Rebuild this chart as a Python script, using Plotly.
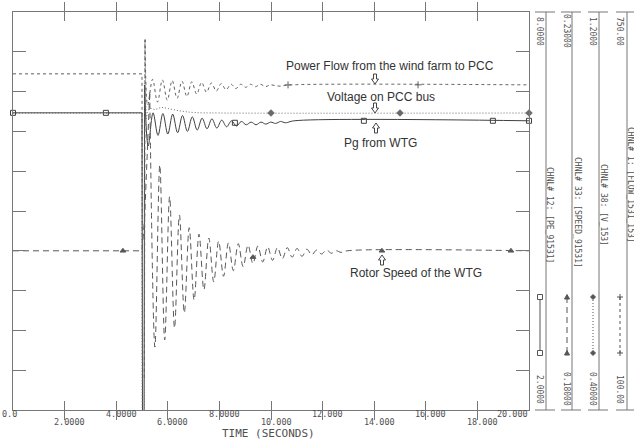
import plotly.graph_objects as go

# ---------------- data ----------------
# Pg from WTG  (CHNL 12, scale 2..8)
pg_t_fault = [0.0, 5.00, 5.02, 5.08, 5.10]
pg_v_fault = [6.48, 6.48, 1.50, 1.50, 6.90]
pg_t_osc = [5.10, 5.24, 5.43, 5.62, 5.81, 6.00, 6.19, 6.38, 6.57, 6.76,
            6.95, 7.14, 7.33, 7.52, 7.71, 7.90, 8.09, 8.28, 8.47, 8.66,
            8.85, 9.04, 9.23, 9.42, 9.61, 9.80, 9.99, 10.18, 10.37, 10.56,
            10.9, 20.0]
pg_v_osc = [6.90, 5.98, 6.48, 6.14, 6.47, 6.16, 6.46, 6.18, 6.44, 6.20,
            6.42, 6.22, 6.40, 6.24, 6.39, 6.25, 6.37, 6.27, 6.36, 6.28,
            6.35, 6.30, 6.34, 6.30, 6.34, 6.31, 6.34, 6.32, 6.35, 6.33,
            6.36, 6.36]
pg_mk_t = [0.0, 3.6, 8.6, 13.6, 18.6, 20.0]
pg_mk_v = [6.48, 6.48, 6.33, 6.36, 6.36, 6.36]

# Rotor speed (CHNL 33, scale 0.18..0.23)
spd_t_fault = [0.0, 5.00, 5.10, 5.30]
spd_v_fault = [0.2000, 0.2000, 0.2040, 0.2199]
spd_t_osc = [5.30, 5.50, 5.69, 5.88, 6.07, 6.26, 6.45, 6.64, 6.83, 7.02,
             7.21, 7.40, 7.59, 7.78, 7.97, 8.16, 8.35, 8.54, 8.73, 8.92,
             9.11, 9.30, 9.49, 9.68, 9.87, 10.06, 10.25, 10.44, 10.63, 10.82,
             11.01, 11.20, 11.39, 11.58, 11.77, 11.96, 12.15, 12.34, 12.53, 12.72,
             12.95, 20.0]
spd_v_osc = [0.2199, 0.1879, 0.2108, 0.1888, 0.2068, 0.1903, 0.2045, 0.1922, 0.2029, 0.1938,
             0.2021, 0.1951, 0.2016, 0.1961, 0.2012, 0.1968, 0.2010, 0.1975, 0.2009, 0.1980,
             0.2007, 0.1984, 0.2006, 0.1986, 0.2005, 0.1988, 0.2004, 0.1990, 0.2004, 0.1992,
             0.2003, 0.1993, 0.2002, 0.1995, 0.2001, 0.1996, 0.2001, 0.1997, 0.2000, 0.1998,
             0.2000, 0.2000]
spd_mk_t = [4.26, 9.3, 14.3, 19.3]
spd_mk_v = [0.2000, 0.1992, 0.2000, 0.2000]

# Voltage on PCC bus (CHNL 38, scale 0.4..1.2)
v_t_fault = [0.0, 5.00, 5.01, 5.09, 5.11, 5.16]
v_v_fault = [0.997, 0.997, 0.25, 0.25, 1.144, 0.985]
v_t_osc = [5.16, 5.30, 5.50, 5.75, 6.00, 6.50, 7.00, 8.00, 20.0]
v_v_osc = [0.985, 1.006, 1.004, 1.008, 1.006, 1.001, 0.998, 0.997, 0.997]
v_mk_t = [10.0, 15.0, 20.0]
v_mk_v = [0.997, 0.997, 0.997]

# Power flow wind farm -> PCC (CHNL 1, scale 100..750)
pf_t_fault = [0.0, 5.00, 5.02, 5.09, 5.12]
pf_v_fault = [649, 649, 150, 150, 705]
pf_t_osc = [5.12, 5.22, 5.41, 5.60, 5.79, 5.98, 6.17, 6.36, 6.55, 6.74,
            6.93, 7.12, 7.31, 7.50, 7.69, 7.88, 8.07, 8.26, 8.45, 8.64,
            8.83, 9.02, 9.21, 9.40, 9.59, 9.78, 9.97, 10.3, 10.8, 20.0]
pf_v_osc = [705, 598, 640, 603, 639, 606, 638, 609, 637, 612,
            636, 616, 635, 619, 634, 621, 633, 623, 632, 625,
            632, 627, 632, 628, 632, 628, 631, 629, 631, 631]
pf_mk_t = [10.66, 15.7]
pf_mk_v = [631, 631]

x_ticks = [0, 2, 4, 6, 8, 10, 12, 14, 16, 18, 20]
x_tick_labels = ["0.0", "2.0000", "4.0000", "6.0000", "8.0000", "10.000",
                 "12.000", "14.000", "16.000", "18.000", "20.000"]

channels = ["CHNL# 12: [PE_91531]", "CHNL# 33: [SPEED_91531]",
            "CHNL# 38: [V_153]", "CHNL# 1: [FLOW_1531_153]"]
ch_top = ["8.0000", "0.23000", "1.2000", "750.00"]
ch_bot = ["2.0000", "0.18000", "0.40000", "100.00"]

# ---------------- geometry helpers ----------------
W, H = 634, 440
L, R, T, B = 13, 529, 12, 410
def px(x):
    return (x - L) / (R - L)
def py(y):
    return (B - y) / (B - T)

LC = "#777777"
CC = "#505050"
MONO = "DejaVu Sans Mono"

fig = go.Figure()

def add_series(tf, vf, to, vo, mt, mv, yax, dash, color, symbol, msize):
    fig.add_trace(go.Scatter(x=tf, y=vf, yaxis=yax, mode="lines",
                             line=dict(color=color, width=1, dash=dash),
                             showlegend=False, hoverinfo="skip"))
    fig.add_trace(go.Scatter(x=to, y=vo, yaxis=yax, mode="lines",
                             line=dict(color=color, width=1, dash=dash,
                                       shape="spline", smoothing=1.0),
                             showlegend=False, hoverinfo="skip"))
    fig.add_trace(go.Scatter(x=mt, y=mv, yaxis=yax, mode="markers",
                             marker=dict(symbol=symbol, size=msize, color=color,
                                         line=dict(color=color, width=1)),
                             showlegend=False, hoverinfo="skip", cliponaxis=False))

add_series(pf_t_fault, pf_v_fault, pf_t_osc, pf_v_osc, pf_mk_t, pf_mk_v,
           "y4", "3px,3px", "#606060", "cross-thin-open", 5)
add_series(v_t_fault, v_v_fault, v_t_osc, v_v_osc, v_mk_t, v_mk_v,
           "y3", "1px,2px", "#6a6a6a", "diamond", 5)
add_series(spd_t_fault, spd_v_fault, spd_t_osc, spd_v_osc, spd_mk_t, spd_mk_v,
           "y2", "6px,4px", "#585858", "triangle-up", 5)
add_series(pg_t_fault, pg_v_fault, pg_t_osc, pg_v_osc, pg_mk_t, pg_mk_v,
           "y", "solid", "#404040", "square-open", 5)

annotations = []
# x tick labels
for i, (tv, tl) in enumerate(zip(x_ticks, x_tick_labels)):
    ys = -4 if i % 2 == 0 else -12
    if i == 0:
        xa, xs = "left", -13
    elif i == len(x_ticks) - 1:
        xa, xs = "right", 1
    else:
        xa, xs = "center", 5
    annotations.append(dict(x=tv, xref="x", y=0, yref="paper", text=tl,
                            showarrow=False, xanchor=xa, yanchor="middle",
                            xshift=xs, yshift=ys,
                            font=dict(family=MONO, size=8.5, color=CC)))
annotations.append(dict(x=px(268), y=py(433), xref="paper", yref="paper",
                        text="TIME (SECONDS)", showarrow=False,
                        xanchor="center", yanchor="middle",
                        font=dict(family=MONO, size=11, color=CC)))

# right-hand channel panels
cols = [540, 567, 593, 620]
lines_x = [546, 572, 599, 627]
lab_x = [550, 577, 604, 631]
lab_y = [215, 212, 205, 185]
shapes = []
for k in range(4):
    c = cols[k]
    lx = lines_x[k]
    shapes.append(dict(type="line", xref="paper", yref="paper",
                       x0=px(lx), x1=px(lx), y0=py(T), y1=py(B),
                       line=dict(color=LC, width=1)))
    for yy in (T, B):
        shapes.append(dict(type="line", xref="paper", yref="paper",
                           x0=px(lx - 11), x1=px(lx + 9), y0=py(yy), y1=py(yy),
                           line=dict(color=LC, width=1)))
    annotations.append(dict(x=px(c), y=py(31), xref="paper", yref="paper",
                            text=ch_top[k], textangle=90, showarrow=False,
                            xanchor="center", yanchor="middle",
                            font=dict(family=MONO, size=8, color=CC)))
    annotations.append(dict(x=px(c), y=py(389), xref="paper", yref="paper",
                            text=ch_bot[k], textangle=90, showarrow=False,
                            xanchor="center", yanchor="middle",
                            font=dict(family=MONO, size=8, color=CC)))
    annotations.append(dict(x=px(lab_x[k]), y=py(lab_y[k]), xref="paper", yref="paper",
                            text=channels[k], textangle=90, showarrow=False,
                            xanchor="center", yanchor="middle",
                            font=dict(family=MONO, size=8, color=CC)))

# legend keys in the panels
key_dash = ["solid", "6px,4px", "1px,2px", "3px,3px"]
KC = "#555555"
for k in range(4):
    c = cols[k]
    shapes.append(dict(type="line", xref="paper", yref="paper",
                       x0=px(c), x1=px(c), y0=py(297), y1=py(353),
                       line=dict(color=KC, width=1, dash=key_dash[k])))
    for yy in (297, 353):
        if k == 0:
            shapes.append(dict(type="rect", xref="paper", yref="paper",
                               x0=px(c - 2.5), x1=px(c + 2.5), y0=py(yy - 2.5), y1=py(yy + 2.5),
                               line=dict(color=KC, width=1), fillcolor="white"))
        elif k == 1:
            path = "M {} {} L {} {} L {} {} Z".format(px(c - 2.5), py(yy + 2), px(c + 2.5), py(yy + 2),
                                                    px(c), py(yy - 2.5))
            shapes.append(dict(type="path", xref="paper", yref="paper", path=path,
                               line=dict(color=KC, width=1), fillcolor=KC))
        elif k == 2:
            path = "M {} {} L {} {} L {} {} L {} {} Z".format(px(c), py(yy - 2.5), px(c + 2.5), py(yy),
                                                           px(c), py(yy + 2.5), px(c - 2.5), py(yy))
            shapes.append(dict(type="path", xref="paper", yref="paper", path=path,
                               line=dict(color=KC, width=1), fillcolor=KC))
        else:
            shapes.append(dict(type="line", xref="paper", yref="paper",
                               x0=px(c - 3), x1=px(c + 3), y0=py(yy), y1=py(yy),
                               line=dict(color=KC, width=1)))
            shapes.append(dict(type="line", xref="paper", yref="paper",
                               x0=px(c), x1=px(c), y0=py(yy - 3), y1=py(yy + 3),
                               line=dict(color=KC, width=1)))

# hollow block arrows next to the captions
def block_arrow(cx, cy, down):
    s = 1 if down else -1
    pts = [(cx - 1.5, cy - 5 * s), (cx + 1.5, cy - 5 * s), (cx + 1.5, cy),
           (cx + 3.5, cy), (cx, cy + 5 * s), (cx - 3.5, cy), (cx - 1.5, cy)]
    path = "M " + " L ".join("{} {}".format(px(a), py(b)) for a, b in pts) + " Z"
    return dict(type="path", xref="paper", yref="paper", path=path,
                line=dict(color="#444444", width=1), fillcolor="white")

shapes.append(block_arrow(375, 79, True))
shapes.append(block_arrow(375, 108, True))
shapes.append(block_arrow(376, 128, False))
shapes.append(block_arrow(382, 260, False))

# chart text annotations
SANS = "Liberation Sans"
txts = [("Power Flow from the wind farm to PCC", 390, 66),
        ("Voltage on PCC bus", 381, 97),
        ("Pg from WTG", 380, 143),
        ("Rotor Speed of the WTG", 416, 273)]
for s, xx, yy in txts:
    annotations.append(dict(x=px(xx), y=py(yy), xref="paper", yref="paper", text=s,
                            showarrow=False, xanchor="center", yanchor="middle",
                            font=dict(family=SANS, size=12, color="#333333")))

fig.update_layout(
    width=W, height=H,
    margin=dict(l=L, r=W - R, t=T, b=H - B, pad=0),
    paper_bgcolor="white", plot_bgcolor="white",
    showlegend=False,
    xaxis=dict(range=[0, 20], tickvals=x_ticks, ticks="inside", ticklen=9,
               tickcolor=LC, showline=True, linecolor=LC, linewidth=1,
               mirror="allticks", showgrid=False, zeroline=False,
               showticklabels=False, fixedrange=True),
    yaxis=dict(range=[2, 8], tick0=2, dtick=0.6, ticks="inside", ticklen=13,
               tickcolor=LC, showline=True, linecolor=LC, linewidth=1,
               mirror="allticks", showgrid=False, zeroline=False,
               showticklabels=False, fixedrange=True),
    yaxis2=dict(range=[0.18, 0.23], overlaying="y", visible=False, fixedrange=True),
    yaxis3=dict(range=[0.4, 1.2], overlaying="y", visible=False, fixedrange=True),
    yaxis4=dict(range=[100, 750], overlaying="y", visible=False, fixedrange=True),
    annotations=annotations,
    shapes=shapes,
)

fig.write_html("out.html", config={"displayModeBar": False},
               post_script="document.body.style.margin='0';document.body.style.overflow='hidden';")
